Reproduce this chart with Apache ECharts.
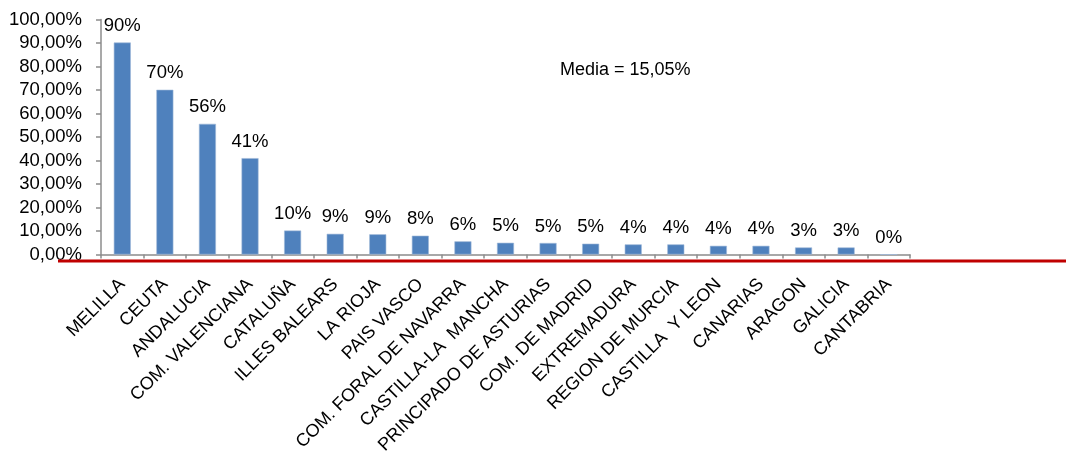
<!DOCTYPE html>
<html>
<head>
<meta charset="utf-8">
<script src="https://cdn.jsdelivr.net/npm/echarts@6/dist/echarts.min.js"></script>
<style>
  html, body { margin: 0; padding: 0; background: #ffffff; }
  #chart { width: 1066px; height: 454px; }
</style>
</head>
<body>
<div id="chart"></div>
<script>
// Regions, in descending order of share
const regions = [
  'MELILLA', 'CEUTA', 'ANDALUCIA', 'COM. VALENCIANA', 'CATALUÑA', 'ILLES BALEARS',
  'LA RIOJA', 'PAIS VASCO', 'COM. FORAL DE NAVARRA', 'CASTILLA-LA  MANCHA',
  'PRINCIPADO DE ASTURIAS', 'COM. DE MADRID', 'EXTREMADURA', 'REGION DE MURCIA',
  'CASTILLA  Y LEON', 'CANARIAS', 'ARAGON', 'GALICIA', 'CANTABRIA'
];
// Share per region, in percent
const shares = [
  90.2, 70.1, 55.6, 41.0, 10.2, 8.8,
  8.6, 8.0, 5.6, 5.0,
  4.9, 4.6, 4.3, 4.3,
  3.7, 3.7, 3.0, 3.0, 0.0
];
// Average across regions, as reported
const mean = 15.05;
// Value axis ticks (percent)
const yMin = 0, yMax = 100, yStep = 10;

const FONT = '"Liberation Sans", Arial, sans-serif';
const pct2 = v => v.toFixed(2).replace('.', ',') + '%';

const chart = echarts.init(document.getElementById('chart'), null, { renderer: 'canvas' });

chart.setOption({
  animation: false,
  backgroundColor: '#ffffff',
  grid: { left: 101, right: 156, top: 19.5, bottom: 199.5,
          containLabel: false, outerBoundsMode: 'none' },
  xAxis: {
    type: 'category',
    data: regions,
    boundaryGap: true,
    axisLine: { show: true, lineStyle: { color: '#8c8c8c', width: 1.5 } },
    axisTick: { show: true, length: 4, inside: false, alignWithLabel: false,
                lineStyle: { color: '#8c8c8c', width: 1.5 } },
    axisLabel: { interval: 0, rotate: 45, margin: 27,
                 color: '#000000', fontFamily: FONT, fontSize: 18 },
    splitLine: { show: false }
  },
  yAxis: {
    type: 'value',
    min: yMin, max: yMax, interval: yStep,
    axisLine: { show: true, lineStyle: { color: '#8c8c8c', width: 1.5 } },
    axisTick: { show: true, length: 5, inside: false, lineStyle: { color: '#8c8c8c', width: 1.5 } },
    axisLabel: { margin: 19, color: '#000000', fontFamily: FONT, fontSize: 18.5,
                 formatter: v => pct2(v) },
    splitLine: { show: false }
  },
  series: [{
    type: 'bar',
    data: shares,
    barWidth: 17,
    itemStyle: { color: '#4f81bd', borderColor: '#9fb8d9', borderWidth: 0.6 },
    label: {
      show: true, position: 'top', distance: 7,
      color: '#000000', fontFamily: FONT, fontSize: 18.5,
      formatter: p => Math.round(p.value) + '%'
    }
  }],
  graphic: [
    {
      type: 'line',
      shape: { x1: 58, y1: 261, x2: 1066, y2: 261 },
      style: { stroke: '#c00000', lineWidth: 3 },
      z: 100
    },
    {
      type: 'text',
      left: 560, top: 61,
      style: {
        text: 'Media = ' + pct2(mean),
        fill: '#000000', font: '18px ' + FONT
      }
    }
  ]
});
</script>
</body>
</html>
